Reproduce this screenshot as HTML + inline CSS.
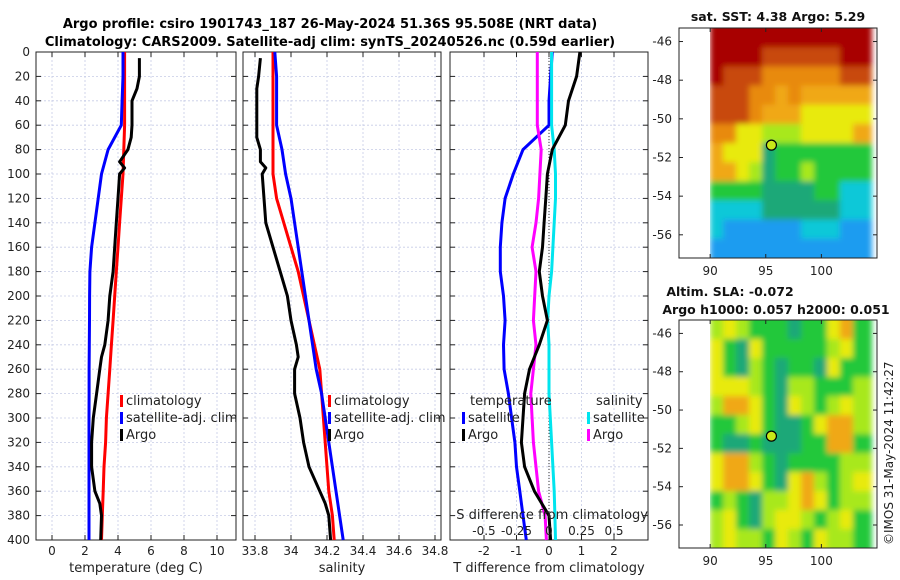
<!DOCTYPE html>
<html><head><meta charset="utf-8">
<style>
html,body{margin:0;padding:0;background:#fff;}
svg{display:block;font-family:"DejaVu Sans","Liberation Sans",sans-serif;}
</style></head>
<body>
<svg id="fig" width="900" height="580" viewBox="0 0 900 580" xmlns="http://www.w3.org/2000/svg">
<defs>
<filter id="blur" x="-5%" y="-5%" width="110%" height="110%"><feGaussianBlur stdDeviation="3"/></filter>
<clipPath id="clipTop"><rect x="710" y="28" width="167" height="230"/></clipPath>
<clipPath id="clipBot"><rect x="710" y="320" width="167" height="228"/></clipPath>
</defs>
<text x="330" y="28" font-size="13" font-weight="bold" text-anchor="middle">Argo profile: csiro 1901743_187 26-May-2024 51.36S 95.508E (NRT data)</text>
<text x="330" y="46" font-size="13" font-weight="bold" text-anchor="middle">Climatology: CARS2009. Satellite-adj clim: synTS_20240526.nc (0.59d earlier)</text>
<g id="plots"></g>
</svg>
<script>
// ---- data ----
const depths = [0,20,40,60,80,100,120,140,160,180,200,220,240,260,280,300,320,340,360,380,400];
const tempClim = [4.4,4.4,4.4,4.4,4.35,4.3,4.2,4.1,4.0,3.9,3.8,3.7,3.6,3.5,3.4,3.3,3.25,3.15,3.1,3.05,3.0];
const tempSat = [4.3,4.3,4.25,4.2,3.4,3.0,2.8,2.6,2.4,2.3,2.28,2.27,2.26,2.25,2.25,2.24,2.24,2.24,2.24,2.24,2.24];
const argoDepths = [5,20,30,40,60,70,80,90,95,100,120,140,160,180,200,220,240,250,260,280,300,320,340,360,370,380,400];
const tempArgo = [5.3,5.3,5.15,4.85,4.85,4.8,4.6,4.1,4.4,4.1,4.0,3.9,3.8,3.7,3.5,3.4,3.2,3.0,2.9,2.7,2.5,2.4,2.4,2.6,2.9,3.0,2.95];
const salArgo = [33.83,33.82,33.81,33.81,33.81,33.81,33.83,33.83,33.86,33.84,33.85,33.86,33.9,33.94,33.98,34.0,34.03,34.04,34.02,34.02,34.05,34.07,34.1,34.16,34.19,34.21,34.22];
const salClim = [33.9,33.9,33.9,33.9,33.9,33.9,33.92,33.96,34.0,34.04,34.07,34.1,34.13,34.16,34.17,34.18,34.19,34.2,34.21,34.23,34.24];
const salSat = [33.91,33.92,33.92,33.92,33.95,33.97,34.0,34.02,34.04,34.06,34.08,34.1,34.12,34.14,34.17,34.19,34.21,34.23,34.25,34.27,34.29];
const tdiffSat = [0.1,0.05,0.0,0.0,-0.8,-1.1,-1.35,-1.45,-1.5,-1.5,-1.4,-1.35,-1.4,-1.38,-1.25,-1.15,-1.05,-1.0,-0.9,-0.8,-0.7];
const tdiffArgo = [0.95,0.85,0.6,0.5,0.1,-0.05,-0.1,-0.15,-0.2,-0.3,-0.2,-0.05,-0.3,-0.6,-0.75,-0.8,-0.85,-0.75,-0.45,0.0,0.05];
const sdiffSat = [0.02,0.02,0.02,0.02,0.04,0.05,0.05,0.04,0.03,0.02,0.0,-0.01,0.0,0.0,0.0,0.01,0.02,0.03,0.04,0.045,0.05];
const sdiffArgo = [-0.09,-0.09,-0.09,-0.09,-0.06,-0.07,-0.08,-0.1,-0.13,-0.1,-0.11,-0.12,-0.1,-0.12,-0.14,-0.13,-0.12,-0.1,-0.08,-0.03,-0.02];
const depthTicks = [0,20,40,60,80,100,120,140,160,180,200,220,240,260,280,300,320,340,360,380,400];
const tempTicks = [0,2,4,6,8,10];
const salTicks = [33.8,34,34.2,34.4,34.6,34.8];
const tdTicks = [-2,-1,0,1,2];
const sdTicks = [-0.5,-0.25,0,0.25,0.5];
// maps: levels per row (top lat -> bottom), 12 columns from lon 90 to 104
const sstGrid = ["999999999999","999988888899","988877777788","888776766666","888766655555","775544455556","655523333333","665423343333","333322223311","111122222211","100000011100","000000000000"];
const slaGrid = ["454333233563","532533333453","532432332533","555432443334","466532543454","334532235664","322322233663","566432333344","566532564345","343244565344","453245543453","454435435443"];
const argoLon = 95.508, argoLat = -51.36;
const lonTicks = [90,95,100];
const latTicks = [-46,-48,-50,-52,-54,-56];

// ---- helpers ----
const NS = "http://www.w3.org/2000/svg";
const root = document.getElementById('plots');
function mk(tag, attrs, parent){const e=document.createElementNS(NS,tag);for(const k in attrs)e.setAttribute(k,attrs[k]);(parent||root).appendChild(e);return e;}
const Y0=52, Y1=540;
const yD = d => Y0 + (Y1-Y0)*d/400;

function panel(name, left, right, xf, ticks, tickFmt, showY, xlabel){
  const g = mk('g',{});
  
  
  ticks.forEach(t=>{const x=xf(t);
    const l=mk('line',{x1:x,x2:x,y1:Y0,y2:Y1,stroke:'#c6cce6','stroke-width':0.8,'stroke-dasharray':'2,2'},g);
    
    
    mk('line',{x1:x,x2:x,y1:Y1,y2:Y1-5,stroke:'#222'},g);
    mk('line',{x1:x,x2:x,y1:Y0,y2:Y0+5,stroke:'#222'},g);
    const tx=mk('text',{x:x,y:555,'font-size':12,'text-anchor':'middle',fill:'#222'},g);
    tx.textContent=tickFmt(t);
    
    
  });
  depthTicks.forEach(d=>{const y=yD(d);
    mk('line',{x1:left,x2:right,y1:y,y2:y,stroke:'#c6cce6','stroke-width':0.8,'stroke-dasharray':'2,2'},g);
    mk('line',{x1:left,x2:left+5,y1:y,y2:y,stroke:'#222'},g);
    mk('line',{x1:right,x2:right-5,y1:y,y2:y,stroke:'#222'},g);
    if(showY){const tx=mk('text',{x:30,y:y+4,'font-size':12,'text-anchor':'end',fill:'#222'},g);tx.textContent=d;
      
      }
  });
  mk('rect',{x:left,y:Y0,width:right-left,height:Y1-Y0,fill:'none',stroke:'#222','stroke-width':1},g);
  const xl=mk('text',{x:(left+right)/2,y:572,'font-size':13,'text-anchor':'middle',fill:'#222'},g);
  xl.textContent=xlabel;
  
  
  return g;
}
function line(g,name,ds,vals,xf,color,w){
  const pts=vals.map((v,i)=>xf(v).toFixed(1)+','+yD(ds[i]).toFixed(1)).join(' ');
  const p=mk('polyline',{points:pts,fill:'none',stroke:color,'stroke-width':w||3,'stroke-linejoin':'round'},g);
  
  
}
function legend(g,x,y,items){
  items.forEach((it,i)=>{
    mk('rect',{x:x,y:y+i*17-10,width:3,height:12,fill:it[1]},g);
    const t=mk('text',{x:x+6,y:y+i*17,'font-size':13,fill:'#222'},g);
    t.textContent=it[0];
    
    
  });
}

// panel 1
const xT = t => 52 + 16.5*t;
const g1 = panel('temperature-panel',36,236,xT,tempTicks,t=>t,true,'temperature (deg C)');
line(g1,'temp-climatology-line',depths,tempClim,xT,'#ff0000');
line(g1,'temp-satellite-line',depths,tempSat,xT,'#0000ff');
line(g1,'temp-argo-line',argoDepths,tempArgo,xT,'#000000');
legend(g1,120,405,[['climatology','#ff0000'],['satellite-adj. clim','#0000ff'],['Argo','#000']]);

// panel 2
const xS = s => 255 + 180*(s-33.8);
const g2 = panel('salinity-panel',243,441,xS,salTicks,t=>t,false,'salinity');
line(g2,'sal-climatology-line',depths,salClim,xS,'#ff0000');
line(g2,'sal-satellite-line',depths,salSat,xS,'#0000ff');
line(g2,'sal-argo-line',argoDepths,salArgo,xS,'#000000');
legend(g2,328,405,[['climatology','#ff0000'],['satellite-adj. clim','#0000ff'],['Argo','#000']]);

// panel 3
const xTd = t => 549 + 32.5*t;
const xSd = s => 549 + 130*s;
const g3 = panel('difference-panel',450,648,xTd,tdTicks,t=>t,false,'T difference from climatology');
mk('line',{x1:xTd(0),x2:xTd(0),y1:Y0,y2:Y1,stroke:'#333','stroke-width':1,'stroke-dasharray':'1,2'},g3);
line(g3,'tdiff-satellite-line',depths,tdiffSat,xTd,'#0000ff');
line(g3,'sdiff-argo-line',depths,sdiffArgo,xSd,'#ff00ff');
line(g3,'sdiff-satellite-line',depths,sdiffSat,xSd,'#00e5ee');
line(g3,'tdiff-argo-line',depths,tdiffArgo,xTd,'#000000');
let t1=mk('text',{x:470,y:405,'font-size':13,fill:'#222'},g3);t1.textContent='temperature';


let t2=mk('text',{x:596,y:405,'font-size':13,fill:'#222'},g3);t2.textContent='salinity';


legend(g3,462,422,[['satellite','#0000ff'],['Argo','#000']]);
legend(g3,587,422,[['satellite','#00e5ee'],['Argo','#ff00ff']]);
const sdt=mk('text',{x:648,y:519,'font-size':13,'text-anchor':'end',fill:'#222'},g3);
sdt.textContent='S difference from climatology';


sdTicks.forEach(s=>{const t=mk('text',{x:xSd(s),y:535,'font-size':12,'text-anchor':'middle',fill:'#222'},g3);t.textContent=s;
  
  });

// maps
const pal = {'-':'#0058e0','0':'#1a9cf0','1':'#10c8d8','2':'#1aa878','3':'#22c83a','4':'#a8e81c','5':'#e8ea10','6':'#f0a818','7':'#e88a08','8':'#c84a08','9':'#a80000'};
const lonL=87.2, lonR=105, pxL=679, pxR=877;
const xLon = lon => pxL + (pxR-pxL)*(lon-lonL)/(lonR-lonL);
function map(name, top, bot, grid, clip, title1, title2){
  const g=mk('g',{});
  
  
  const latTop=-45.3, latBot=-57.2;
  const yLat = lat => top + (bot-top)*(lat-latTop)/(latBot-latTop);
  const rows=grid.length, cols=grid[0].length;
  const lonW=(104-90)/cols, latH=(latTop-latBot)/rows;
  const cg=mk('g',{'clip-path':'url(#'+clip+')'},g);
  const bg=mk('g',{filter:'url(#blur)'},cg);
  grid.forEach((row,r)=>{[...row].forEach((c,k)=>{
    const x0=xLon(90+k*lonW), x1=xLon(90+(k+1)*lonW);
    const y0=yLat(latTop-r*latH), y1=yLat(latTop-(r+1)*latH);
    const ex0 = k===0?0:0, ex1 = k===cols-1?6:0.5, ey0 = r===0?6:0, ey1 = r===rows-1?6:0.5;
    const cell=mk('rect',{x:x0-ex0,y:y0-ey0,width:x1-x0+ex0+ex1,height:y1-y0+ey0+ey1,fill:pal[c]},bg);
    
    
  });});
  mk('rect',{x:pxL,y:top,width:pxR-pxL,height:bot-top,fill:'none',stroke:'#222'},g);
  latTicks.forEach(l=>{const y=yLat(l);
    mk('line',{x1:pxL,x2:pxL+4,y1:y,y2:y,stroke:'#222'},g);
    mk('line',{x1:pxR,x2:pxR-4,y1:y,y2:y,stroke:'#222'},g);
    const t=mk('text',{x:672,y:y+4,'font-size':12,'text-anchor':'end',fill:'#222'},g);t.textContent=l;
    
    });
  lonTicks.forEach(l=>{const x=xLon(l);
    mk('line',{x1:x,x2:x,y1:bot,y2:bot-4,stroke:'#222'},g);
    mk('line',{x1:x,x2:x,y1:top,y2:top+4,stroke:'#222'},g);
    const t=mk('text',{x:x,y:bot+17,'font-size':12,'text-anchor':'middle',fill:'#222'},g);t.textContent=l;
    
    });
  const dot=mk('circle',{cx:xLon(argoLon),cy:yLat(argoLat),r:5,fill:'#c8e818',stroke:'#000','stroke-width':1.2},g);
  
  
  if(title2){
    const a=mk('text',{x:730,y:296,'font-size':12.5,'font-weight':'bold','text-anchor':'middle',fill:'#111'},g);a.textContent=title1;
    
    
    const b=mk('text',{x:776,y:314,'font-size':12.5,'font-weight':'bold','text-anchor':'middle',fill:'#111'},g);b.textContent=title2;
    
    
  } else {
    const a=mk('text',{x:778,y:21,'font-size':12.5,'font-weight':'bold','text-anchor':'middle',fill:'#111'},g);a.textContent=title1;
    
    
  }
}
map('sst-map',28,258,sstGrid,'clipTop','sat. SST: 4.38 Argo: 5.29');
map('sla-map',320,548,slaGrid,'clipBot','Altim. SLA: -0.072','Argo h1000: 0.057 h2000: 0.051');
const cr=mk('text',{x:893,y:545,'font-size':12,fill:'#222',transform:'rotate(-90 893 545)'});
cr.textContent='©IMOS 31-May-2024 11:42:27';


</script>
</body></html>
